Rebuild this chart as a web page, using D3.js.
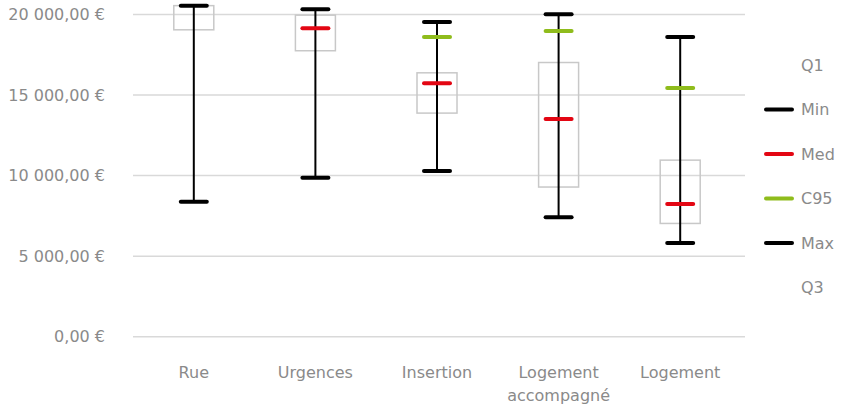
<!DOCTYPE html>
<html>
<head>
<meta charset="utf-8">
<script src="https://cdn.jsdelivr.net/npm/d3@7"></script>
<style>
  body { margin: 0; background: #fff; }
  text { font-family: "DejaVu Sans", sans-serif; font-weight: 400; fill: #8a8a8a; }
</style>
</head>
<body>
<div id="chart"></div>
<script>
/**
 * DATA
 * */
const categories = ["Rue", "Urgences", "Insertion", "Logement accompagné", "Logement"];
const q1Values   = [19050, 17750, 13880, 9290, 7030];
const q3Values   = [20550, 19960, 16380, 17020, 10960];
const minValues  = [8380, 9860, 10280, 7420, 5810];
const medValues  = [null, 19150, 15740, 13520, 8230];
const c95Values  = [null, null, 18610, 18980, 15430];
const maxValues  = [20550, 20330, 19540, 20020, 18610];
const yTicks = [0, 5000, 10000, 15000, 20000];
const legendItems = [
  { name: "Q1", color: null },
  { name: "Min", color: "#000000" },
  { name: "Med", color: "#e30613" },
  { name: "C95", color: "#8fbc1c" },
  { name: "Max", color: "#000000" },
  { name: "Q3", color: null },
];

/**
 * CONSTANTS
 * */
const width = 843, height = 406;
const margin = { top: 14.5, bottom: 69.3, left: 133, right: 102 };

const svg = d3.select("#chart").append("svg")
  .attr("width", width)
  .attr("height", height);

const x = d3.scaleBand()
  .domain(categories)
  .range([margin.left, width - margin.right]);

const y = d3.scaleLinear()
  .domain([0, 20000])
  .range([height - margin.bottom, margin.top]);

const fr = d3.formatLocale({ decimal: ",", thousands: "\u00a0", grouping: [3], currency: ["", " €"] });
const fmt = v => fr.format(",.2f")(v) + " €";

// gridlines
svg.append("g")
  .selectAll("line")
  .data(yTicks)
  .join("line")
  .attr("x1", margin.left)
  .attr("x2", width - margin.right + 4)
  .attr("y1", d => y(d))
  .attr("y2", d => y(d))
  .attr("stroke", "#d9d9d9")
  .attr("stroke-width", 1.5);

// y labels
svg.append("g")
  .selectAll("text")
  .data(yTicks)
  .join("text")
  .attr("x", 105)
  .attr("y", d => y(d))
  .attr("dy", "0.35em")
  .attr("text-anchor", "end")
  .style("font-size", "16px")
  .text(d => fmt(d));

// x labels
const xl = svg.append("g")
  .selectAll("text")
  .data(categories)
  .join("text")
  .attr("x", d => x(d) + x.bandwidth() / 2)
  .attr("y", 378)
  .attr("text-anchor", "middle")
  .style("font-size", "16px");

xl.each(function (d) {
  const parts = d === "Logement accompagné" ? ["Logement", "accompagné"] : [d];
  d3.select(this).selectAll("tspan")
    .data(parts)
    .join("tspan")
    .attr("x", x(d) + x.bandwidth() / 2)
    .attr("dy", (p, i) => i === 0 ? 0 : 23)
    .text(p => p);
});

const rows = categories.map((c, i) => ({
  cat: c, q1: q1Values[i], q3: q3Values[i], min: minValues[i],
  med: medValues[i], c95: c95Values[i], max: maxValues[i]
}));

const cx = d => x(d.cat) + x.bandwidth() / 2;
const boxW = 40, capW = 26;

const g = svg.append("g");

// boxes (Q1-Q3)
g.selectAll("rect.box")
  .data(rows)
  .join("rect")
  .attr("class", "box")
  .attr("x", d => cx(d) - boxW / 2)
  .attr("y", d => y(d.q3))
  .attr("width", boxW)
  .attr("height", d => y(d.q1) - y(d.q3))
  .attr("fill", "none")
  .attr("stroke", "#c8c8c8")
  .attr("stroke-width", 1.5);

// whiskers
g.selectAll("line.whisker")
  .data(rows)
  .join("line")
  .attr("class", "whisker")
  .attr("x1", cx).attr("x2", cx)
  .attr("y1", d => y(d.max))
  .attr("y2", d => y(d.min))
  .attr("stroke", "#000")
  .attr("stroke-width", 2);

// markers
const markers = [
  { key: "c95", color: "#8fbc1c" },
  { key: "med", color: "#e30613" },
  { key: "min", color: "#000000" },
  { key: "max", color: "#000000" },
];
markers.forEach(m => {
  g.selectAll("line.m-" + m.key)
    .data(rows.filter(d => d[m.key] != null))
    .join("line")
    .attr("class", "m-" + m.key)
    .attr("x1", d => cx(d) - capW / 2)
    .attr("x2", d => cx(d) + capW / 2)
    .attr("y1", d => y(d[m.key]))
    .attr("y2", d => y(d[m.key]))
    .attr("stroke", m.color)
    .attr("stroke-width", 4)
    .attr("stroke-linecap", "round");
});

// legend
const leg = svg.append("g")
  .selectAll("g")
  .data(legendItems)
  .join("g")
  .attr("transform", (d, i) => `translate(766,${65 + i * 44.5})`);

leg.filter(d => d.color)
  .append("line")
  .attr("x1", 0).attr("x2", 26)
  .attr("stroke", d => d.color)
  .attr("stroke-width", 4)
  .attr("stroke-linecap", "round");

leg.append("text")
  .attr("x", 35)
  .attr("dy", "0.35em")
  .style("font-size", "16px")
  .text(d => d.name);
</script>
</body>
</html>
